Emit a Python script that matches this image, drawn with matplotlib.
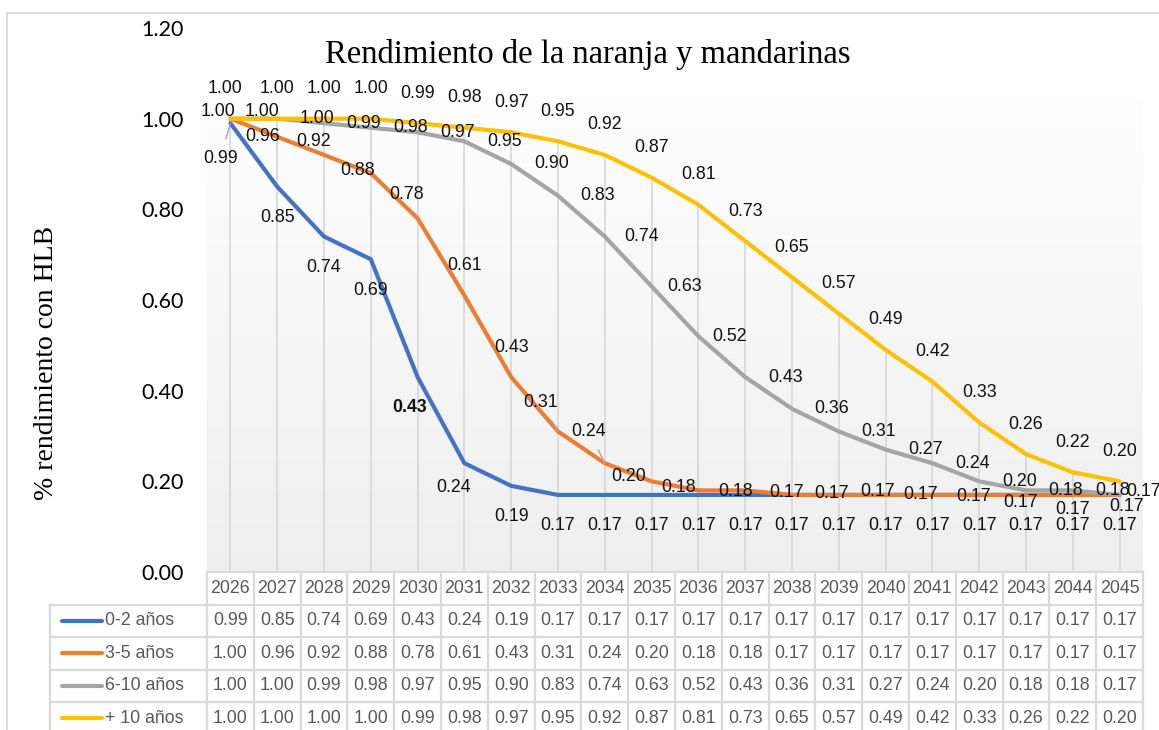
import numpy as np
import matplotlib
matplotlib.use("Agg")
import matplotlib.pyplot as plt
from matplotlib.lines import Line2D
from matplotlib import font_manager as fm

years = [str(y) for y in range(2026, 2046)]
series_names = ["0-2 años", "3-5 años", "6-10 años", "+ 10 años"]
s_0_2 = [0.99, 0.85, 0.74, 0.69, 0.43, 0.24, 0.19, 0.17, 0.17, 0.17,
         0.17, 0.17, 0.17, 0.17, 0.17, 0.17, 0.17, 0.17, 0.17, 0.17]
s_3_5 = [1.00, 0.96, 0.92, 0.88, 0.78, 0.61, 0.43, 0.31, 0.24, 0.20,
         0.18, 0.18, 0.17, 0.17, 0.17, 0.17, 0.17, 0.17, 0.17, 0.17]
s_6_10 = [1.00, 1.00, 0.99, 0.98, 0.97, 0.95, 0.90, 0.83, 0.74, 0.63,
          0.52, 0.43, 0.36, 0.31, 0.27, 0.24, 0.20, 0.18, 0.18, 0.17]
s_10p = [1.00, 1.00, 1.00, 1.00, 0.99, 0.98, 0.97, 0.95, 0.92, 0.87,
         0.81, 0.73, 0.65, 0.57, 0.49, 0.42, 0.33, 0.26, 0.22, 0.20]
title = "Rendimiento de la naranja y mandarinas"
ylabel = "% rendimiento con HLB"
yticks = [0.0, 0.2, 0.4, 0.6, 0.8, 1.0, 1.2]

colors = ["#4472C4", "#ED7D31", "#A5A5A5", "#FFC000"]
all_series = [s_0_2, s_3_5, s_6_10, s_10p]

# label offsets in pixels (style only)
off_blue = [(-10, -35), (0, -31), (0, -31), (0, -31), (-8, -30), (-11, -24)] + [(0, -31)] * 14
off_orange = [(-12, 7), (-15, 0), (-10, 13), (-13, 3), (-11, 24), (0, 30), (0, 30), (-17, 29),
              (-16, 32), (-23, 5), (-20, 3), (-10, -1), (-5, 2), (-7, 1), (-8, 3), (-12, 0),
              (-6, -2), (-5, -8), (0, -15), (7, -12)]
off_gray = [(32, 7)] + [(40, 0)] * 7 + [(37, 0), (33, 0), (31, 0)] + [(40, 0)] * 8 + [(24, 3)]
off_yellow = [(-5, 30)] + [(0, 30)] * 19
offsets = [off_blue, off_orange, off_gray, off_yellow]
leaders = {(0, 0), (1, 7), (1, 8)}

names = {f.name for f in fm.fontManager.ttflist}
narrow = ["Liberation Sans Narrow", "Liberation Sans"] if "Liberation Sans Narrow" in names else ["Liberation Sans"]
serif = ["Liberation Serif", "DejaVu Serif"]
tickfont = ["Lato", "DejaVu Sans"]

W, H = 1159, 730
fig = plt.figure(figsize=(W / 100, H / 100), dpi=100)
L, R, B, T = 207, 1143, 572, 28
ax = fig.add_axes([L / W, 1 - B / H, (R - L) / W, (B - T) / H])
n = len(years)
x = np.arange(n)
ax.set_xlim(-0.5, n - 0.5)
ax.set_ylim(0, 1.2)
px = 1.2 / (B - T)  # data units per pixel in y

# gradient background
yy = np.linspace(1.2, 0, 300)
top = 1.046
g = np.where(yy > top, 1.0, 0.995 - (top - yy) / top * (0.995 - 0.935))
img = np.stack([np.column_stack([g, g])] * 3, axis=-1)
ax.imshow(img, extent=(-0.5, n - 0.5, 0, 1.2), aspect="auto", zorder=0, interpolation="bilinear")

for s in ax.spines.values():
    s.set_visible(False)
ax.set_xticks([])
ax.set_yticks(yticks)
ax.set_yticklabels([f"{v:.2f}" for v in yticks], fontfamily=tickfont, fontsize=15.5, color="#000000")
ax.tick_params(axis="y", length=0, pad=17)

# drop lines
maxv = np.max(np.array(all_series), axis=0)
ax.vlines(x, 0, maxv, color="#d9d9d9", lw=1.3, zorder=1)

for i, (s, c) in enumerate(zip(all_series, colors)):
    ax.plot(x, s, color=c, lw=3.0, zorder=3 + i, solid_joinstyle="round", solid_capstyle="round")

for i, s in enumerate(all_series):
    for j, v in enumerate(s):
        dx, dy = offsets[i][j]
        kw = {}
        if (i, j) in leaders:
            kw["arrowprops"] = dict(arrowstyle="-", color="#a6a6a6", lw=1.0, shrinkA=6, shrinkB=0)
        ax.annotate(f"{v:.2f}", (j, v), xytext=(dx, dy), textcoords="offset pixels",
                    ha="center", va="center", fontsize=12.8, fontfamily=narrow,
                    color="#111111", zorder=10,
                    fontweight="bold" if (i == 0 and j == 4) else "normal", **kw)

# title / ylabel
fig.text(588 / W, 1 - 55 / H, title, ha="center", va="center", fontsize=23.5,
         fontfamily=serif, color="#000000")
fig.text(47 / W, 1 - 363 / H, ylabel, ha="center", va="center", rotation=90,
         fontsize=20, fontfamily=serif, color="#000000")

# data table
rh = 32.5 * px
colw_px = (R - L) / n
leg_left = -0.5 - (L - 50) / colw_px
tc = "#d9d9d9"
tkw = dict(color=tc, lw=1.6, clip_on=False, zorder=2)
nrows = 5
ax.plot([-0.5, n - 0.5], [0, 0], **tkw)
for k in range(1, nrows + 1):
    ax.plot([leg_left, n - 0.5], [-k * rh, -k * rh], **tkw)
for k in range(n + 1):
    ax.plot([-0.5 + k, -0.5 + k], [0, -nrows * rh], **tkw)
ax.plot([leg_left, leg_left], [-rh, -nrows * rh], **tkw)

txt_c = "#595959"
tfs = 12.8
for j, yr in enumerate(years):
    ax.text(j, -0.5 * rh, yr, ha="center", va="center", fontsize=tfs, fontfamily=narrow,
            color=txt_c, clip_on=False)
l0 = -0.5 - (L - 62) / colw_px
l1 = -0.5 - (L - 102) / colw_px
lt = -0.5 - (L - 105) / colw_px
for i, (nm, s, c) in enumerate(zip(series_names, all_series, colors)):
    yc = -(i + 1.5) * rh
    ax.plot([l0, l1], [yc, yc], color=c, lw=3.0, clip_on=False, solid_capstyle="round")
    ax.text(lt, yc, nm, ha="left", va="center", fontsize=tfs, fontfamily=narrow,
            color=txt_c, clip_on=False)
    for j, v in enumerate(s):
        ax.text(j, yc, f"{v:.2f}", ha="center", va="center", fontsize=tfs, fontfamily=narrow,
                color=txt_c, clip_on=False)

# outer frame
fig.add_artist(Line2D([7 / W, 7 / W], [0, 1 - 13 / H], color="#d9d9d9", lw=1.2))
fig.add_artist(Line2D([7 / W, 1], [1 - 13 / H, 1 - 13 / H], color="#d9d9d9", lw=1.2))

fig.savefig("out.png", dpi=100)
